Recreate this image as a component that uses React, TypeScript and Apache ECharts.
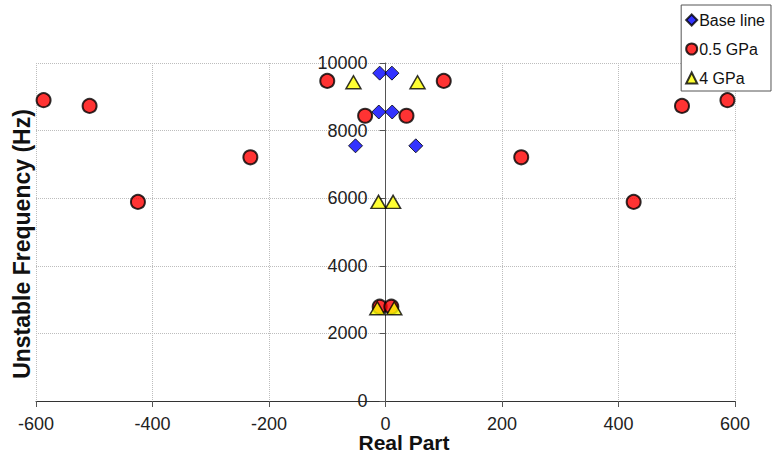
import React, { useEffect, useRef } from "react";
import * as echarts from "echarts";

const seriesNames = ["Base line", "0.5 GPa", "4 GPa"];
const baseLineReal = [-10, 11, -11.5, 11.5, -51.5, 52];
const baseLineFreq = [9700, 9700, 8550, 8550, 7550, 7550];
const gpa05Real = [-587, -508, -425, -232, -100, -35, -10, 10, 36, 100, 233, 426, 509, 587];
const gpa05Freq = [8900, 8730, 5890, 7210, 9470, 8440, 2790, 2790, 8440, 9470, 7210, 5890, 8730, 8900];
const gpa4Real = [-55, 55, -12, 13, -14, 15];
const gpa4Freq = [9430, 9430, 5890, 5890, 2745, 2745];
const xTicks = { min: -600, max: 600, interval: 200 };
const yTicks = { min: 0, max: 10000, interval: 2000 };
const xTitle = "Real Part";
const yTitle = "Unstable Frequency (Hz)";

const FONT = "'Liberation Sans', Arial, sans-serif";
const W = 772;
const H = 451;
const GRID = { left: 36, right: 37, top: 63, bottom: 50 };

function pairs(xs: number[], ys: number[]) {
  return xs.map((x, i) => [x, ys[i]]);
}

export default function App() {
  const ref = useRef<HTMLDivElement>(null);
  useEffect(() => {
    if (!ref.current) return;
    const chart = echarts.init(ref.current, undefined, { renderer: "svg" });
    const gridLine = { show: true, lineStyle: { color: "#bdbdbd", type: "dotted" as const, width: 1 } };
    // place the y axis (line, ticks and labels) at x = 0 of the value x axis
    const plotW = W - GRID.left - GRID.right;
    const zeroOffset = -plotW * ((0 - xTicks.min) / (xTicks.max - xTicks.min));
    chart.setOption({
      animation: false,
      backgroundColor: "#ffffff",
      textStyle: { fontFamily: FONT },
      grid: {
        ...GRID,
        containLabel: false,
        outerBoundsMode: "none",
      },
      xAxis: {
        type: "value",
        min: xTicks.min,
        max: xTicks.max,
        interval: xTicks.interval,
        axisLine: { show: true, onZero: false, lineStyle: { color: "#333", width: 1 } },
        axisTick: { show: true, length: 6, lineStyle: { color: "#555" } },
        axisLabel: { fontSize: 18, lineHeight: 16, color: "#222", margin: 15, fontFamily: FONT },
        splitLine: gridLine,
      },
      yAxis: {
        type: "value",
        min: yTicks.min,
        max: yTicks.max,
        interval: yTicks.interval,
        position: "left",
        offset: zeroOffset,
        axisLine: { show: true, onZero: false, lineStyle: { color: "#555", width: 1 } },
        axisTick: { show: true, length: 6, lineStyle: { color: "#555" } },
        axisLabel: {
          fontSize: 18,
          color: "#222",
          margin: 18,
          fontFamily: FONT,
          formatter: (v: number) => String(v),
        },
        splitLine: gridLine,
      },
      legend: {
        show: true,
        orient: "vertical",
        right: 1,
        top: 5,
        width: 80,
        backgroundColor: "#fff",
        borderColor: "#555",
        borderWidth: 1,
        padding: [7, 6, 5, 4],
        itemGap: 13,
        itemWidth: 11,
        itemHeight: 11,
        textStyle: { fontSize: 16, color: "#111", fontFamily: FONT, padding: [0, 0, 0, -3] },
        data: seriesNames,
      },
      graphic: [
        {
          type: "text",
          x: 22,
          y: 244,
          rotation: Math.PI / 2,
          style: {
            text: yTitle,
            fontSize: 23,
            lineHeight: 20,
            fontWeight: "bold",
            fontFamily: FONT,
            fill: "#111",
            textAlign: "center",
            textVerticalAlign: "middle",
          },
        },
        {
          type: "text",
          x: 404,
          y: 442,
          style: {
            text: xTitle,
            fontSize: 21,
            lineHeight: 16,
            fontWeight: "bold",
            fontFamily: FONT,
            fill: "#111",
            textAlign: "center",
            textVerticalAlign: "middle",
          },
        },
      ],
      series: [
        {
          name: seriesNames[0],
          type: "scatter",
          symbol: "diamond",
          symbolSize: 14,
          itemStyle: { color: "#0000ff", borderColor: "#000", borderWidth: 1 },
          data: pairs(baseLineReal, baseLineFreq),
          z: 3,
        },
        {
          name: seriesNames[1],
          type: "scatter",
          symbol: "circle",
          symbolSize: 14,
          itemStyle: { color: "#ff0000", borderColor: "#000", borderWidth: 2 },
          data: pairs(gpa05Real, gpa05Freq),
          z: 4,
        },
        {
          name: seriesNames[2],
          type: "scatter",
          symbol: "triangle",
          symbolSize: [15, 13],
          itemStyle: { color: "#ffff00", borderColor: "#000", borderWidth: 1.5 },
          data: pairs(gpa4Real, gpa4Freq),
          z: 5,
        },
      ],
    });
    return () => chart.dispose();
  }, []);
  return (
    <div
      ref={ref}
      style={{ position: "absolute", left: 0, top: 0, width: W, height: H }}
    />
  );
}
